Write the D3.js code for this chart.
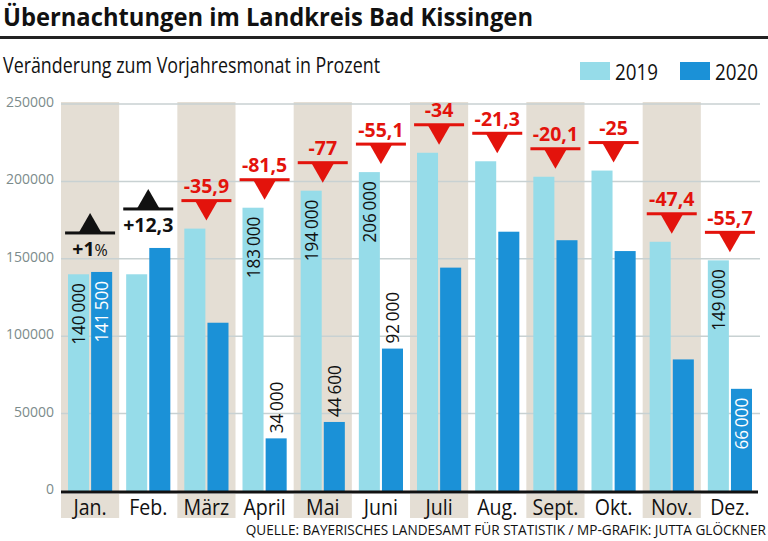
<!DOCTYPE html>
<html>
<head>
<meta charset="utf-8">
<script src="https://cdn.jsdelivr.net/npm/d3@7"></script>
<style>
  html, body { margin: 0; padding: 0; background: #fff; }
  svg { display: block; font-family: "Open Sans", "Noto Sans", sans-serif; }
</style>
</head>
<body>
<svg id="chart" width="768" height="541"></svg>
<script>
// ---- Data ----
const months = ["Jan.", "Feb.", "März", "April", "Mai", "Juni", "Juli", "Aug.", "Sept.", "Okt.", "Nov.", "Dez."];
const series = ["2019", "2020"];
const values2019 = [140000, 140000, 169500, 183000, 194000, 206000, 218500, 213000, 203000, 207000, 161000, 149000];
const values2020 = [141500, 157000, 108700, 34000, 44600, 92000, 144300, 167500, 162000, 155000, 85000, 66000];
const changeLabels = ["+1%", "+12,3", "-35,9", "-81,5", "-77", "-55,1", "-34", "-21,3", "-20,1", "-25", "-47,4", "-55,7"];
const showLabel2019 = [true, false, false, true, true, true, false, false, false, false, false, true];
const showLabel2020 = [true, false, false, true, true, true, false, false, false, false, false, true];
const label2020Inside = [true, false, false, false, false, false, false, false, false, false, false, true];
const yTicks = [0, 50000, 100000, 150000, 200000, 250000];
const titleText = "Übernachtungen im Landkreis Bad Kissingen";
const subtitleText = "Veränderung zum Vorjahresmonat in Prozent";
const sourceText = "QUELLE: BAYERISCHES LANDESAMT FÜR STATISTIK / MP-GRAFIK: JUTTA GLÖCKNER";

// ---- Styles ----
const C = {
  c2019: "#96dce9",
  c2020: "#1b91d7",
  band: "#e4ded4",
  grid: "#c8d1d2",
  tick: "#7c8b8b",
  red: "#e3130c",
  black: "#111"
};

const svg = d3.select("#chart");
const plotLeft = 61, plotRight = 759, plotTop = 104, plotBottom = 491;

const x0 = d3.scaleBand().domain(months).range([plotLeft, plotRight]).paddingInner(0).paddingOuter(0);
const bw = x0.bandwidth();
const x1 = d3.scaleBand().domain(series).range([7, bw - 7]).paddingInner(0.09);
const y = d3.scaleLinear().domain([0, 250000]).range([plotBottom, plotTop]);

const loc = d3.formatLocale({decimal: ",", thousands: "\u2009", grouping: [3], currency: ["", ""]});
const fmt = loc.format(",d");

function condense(sel, f) {
  sel.each(function () {
    const L = this.getComputedTextLength();
    d3.select(this).attr("textLength", L * f).attr("lengthAdjust", "spacingAndGlyphs");
  });
}
function fit(sel, w) {
  sel.attr("textLength", w).attr("lengthAdjust", "spacingAndGlyphs");
}

// ---- Title ----
svg.append("text").attr("x", 3).attr("y", 25.5)
  .attr("font-size", 25).attr("font-weight", 700).attr("fill", C.black)
  .text(titleText).call(fit, 530);
svg.append("rect").attr("x", 0).attr("y", 36).attr("width", 768).attr("height", 3).attr("fill", "#222");

svg.append("text").attr("x", 3).attr("y", 73)
  .attr("font-size", 21).attr("fill", C.black)
  .text(subtitleText).call(fit, 377);

// ---- Legend ----
const legendX = [580, 680];
const lg = svg.append("g");
series.forEach((s, i) => {
  lg.append("rect").attr("x", legendX[i]).attr("y", 62).attr("width", 30).attr("height", 18)
    .attr("fill", i === 0 ? C.c2019 : C.c2020);
  lg.append("text").attr("x", legendX[i] + 35).attr("y", 79.5)
    .attr("font-size", 22).attr("fill", C.black).text(s).call(fit, 43);
});

// ---- Bands ----
const bandMonths = months.filter((m, i) => i % 2 === 0);
svg.append("g").selectAll("rect").data(bandMonths).join("rect")
  .attr("x", d => x0(d)).attr("y", 102).attr("width", bw).attr("height", plotBottom - 102)
  .attr("fill", C.band);
svg.append("g").selectAll("rect").data(bandMonths).join("rect")
  .attr("x", d => x0(d)).attr("y", 494).attr("width", bw).attr("height", 24)
  .attr("fill", C.band);

// ---- Grid + y labels ----
const grid = svg.append("g");
grid.selectAll("line").data(yTicks.filter(d => d > 0)).join("line")
  .attr("x1", plotLeft).attr("x2", 760)
  .attr("y1", d => y(d)).attr("y2", d => y(d))
  .attr("stroke", C.grid).attr("stroke-width", 1.5);
grid.selectAll("text").data(yTicks).join("text")
  .attr("x", 54).attr("y", d => y(d) + 3)
  .attr("text-anchor", "end").attr("font-size", 14).attr("fill", C.tick)
  .text(d => d3.format("d")(d));

// ---- Bars ----
const rows = months.map((m, i) => ({
  month: m, i,
  vals: [
    {key: "2019", v: values2019[i], show: showLabel2019[i], inside: true},
    {key: "2020", v: values2020[i], show: showLabel2020[i], inside: label2020Inside[i]}
  ]
}));

const mg = svg.append("g").selectAll("g").data(rows).join("g")
  .attr("transform", d => `translate(${x0(d.month)},0)`);

mg.selectAll("rect").data(d => d.vals).join("rect")
  .attr("x", d => x1(d.key)).attr("width", x1.bandwidth())
  .attr("y", d => y(d.v)).attr("height", d => y(0) - y(d.v))
  .attr("fill", d => d.key === "2019" ? C.c2019 : C.c2020);

// value labels
mg.selectAll("text.val").data(d => d.vals.filter(v => v.show)).join("text")
  .attr("class", "val")
  .attr("transform", d => {
    const cx = x1(d.key) + x1.bandwidth() / 2;
    const yy = d.inside ? y(d.v) + 9 : y(d.v) - 5;
    return `translate(${cx},${yy}) rotate(-90)`;
  })
  .attr("dy", "0.36em")
  .attr("text-anchor", d => d.inside ? "end" : "start")
  .attr("font-size", 19)
  .attr("fill", d => (d.key === "2020" && d.inside) ? "#fff" : C.black)
  .text(d => fmt(d.v))
  .call(condense, 0.9);

// ---- Axis line ----
svg.append("rect").attr("x", plotLeft).attr("y", plotBottom - 0.5).attr("width", 758 - plotLeft).attr("height", 3).attr("fill", C.black);

// ---- Month labels ----
svg.append("g").selectAll("text").data(months).join("text")
  .attr("x", d => x0(d) + bw / 2).attr("y", 514.5)
  .attr("text-anchor", "middle").attr("font-size", 22.5).attr("fill", C.black)
  .text(d => d).call(condense, 0.87);

// ---- Change markers ----
const markers = svg.append("g").selectAll("g").data(rows).join("g")
  .attr("transform", d => `translate(${x0(d.month) + bw / 2},0)`);

markers.each(function (d) {
  const g = d3.select(this);
  const lbl = changeLabels[d.i];
  const pos = lbl.startsWith("+");
  const col = pos ? C.black : C.red;
  const maxV = d3.max(d.vals, v => v.v);
  const ly = pos ? y(maxV) - 39 : y(maxV) - 28;
  g.append("rect").attr("x", -25).attr("y", ly - 1.5).attr("width", 50).attr("height", 3).attr("fill", col);
  const tri = pos
    ? `M-11.5,${ly} L11.5,${ly} L0,${ly - 20} Z`
    : `M-11.5,${ly} L11.5,${ly} L0,${ly + 20} Z`;
  g.append("path").attr("d", tri).attr("fill", col);
  const t = g.append("text").attr("text-anchor", "middle")
    .attr("y", pos ? ly + 23 : ly - 7.5)
    .attr("font-size", 19.5).attr("font-weight", 700).attr("fill", col);
  if (lbl.endsWith("%")) {
    t.append("tspan").text(lbl.slice(0, -1));
    t.append("tspan").attr("font-size", 16).attr("font-weight", 400).text("%");
  } else {
    t.text(lbl);
  }
});

// ---- Source (condensed by horizontal scale) ----
const srcG = svg.append("g");
const src = srcG.append("text").attr("x", 0).attr("y", 0)
  .attr("text-anchor", "end").attr("font-size", 15).attr("fill", C.black)
  .text(sourceText);
const srcLen = src.node().getComputedTextLength();
srcG.attr("transform", `translate(766,534.5) scale(${521 / srcLen},1)`);
</script>
</body>
</html>
